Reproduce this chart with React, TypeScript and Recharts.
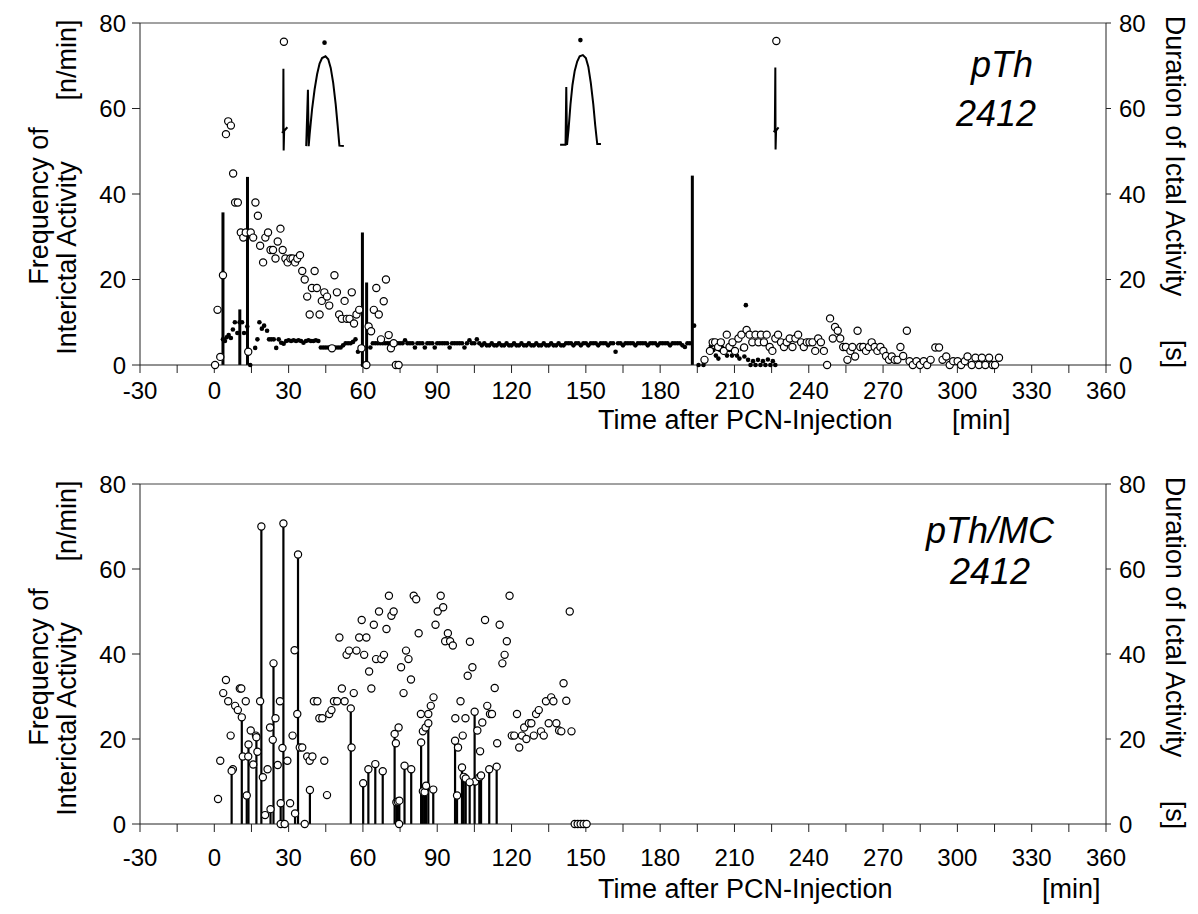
import React from "react";
import { ComposedChart, Bar, Scatter, XAxis, YAxis, ReferenceLine } from "recharts";

type Pt = [number, number];

const FONT = "'Liberation Sans', Arial, Helvetica, sans-serif";

// axis ticks (minutes / values)
const xTicks = [-30, -15, 0, 15, 30, 45, 60, 75, 90, 105, 120, 135, 150, 165, 180, 195, 210, 225, 240, 255, 270, 285, 300, 315, 330, 345, 360];
const yTicks = [0, 20, 40, 60, 80];

// ---- upper panel: pTh 2412 ----
// open circles: frequency of interictal activity [n/min]
const topFreq: Pt[] = [
  [0.3, 0], [1.3, 12.9], [2.4, 1.9], [3.5, 21], [4.7, 54], [5.6, 57], [6.7, 56], [7.6, 44.8], [8.4, 38], [9.5, 38],
  [10.7, 31], [11.7, 29.8], [12.7, 31], [13.7, 3.1], [14.7, 31], [15.7, 29.8], [16.6, 38], [17.6, 34.9], [18.5, 27.9], [19.7, 24],
  [20.6, 29.8], [21.7, 31], [22.7, 26.9], [23.7, 26.9], [24.7, 24.9], [25.6, 28.9], [26.7, 31.9], [27.6, 26.9], [28.7, 24.9], [29.6, 24],
  [30.7, 24.9], [31.6, 24.9], [32.6, 24], [33.5, 24.9], [34.6, 25.7], [35.5, 22], [36.5, 20], [37.5, 16], [38.5, 11.8], [39.4, 18],
  [40.5, 22], [41.4, 18], [42.5, 11.8], [43.4, 15], [44.4, 17], [45.5, 16], [46.4, 13.9], [47.5, 3.9], [48.5, 21], [49.5, 17],
  [50.4, 11.8], [51.5, 10.8], [52.6, 15], [53.5, 10.8], [54.6, 10.8], [55.5, 17], [56.4, 9.7], [57.4, 11.8], [58.5, 12.9], [59.4, 3.9],
  [61.4, 0], [62.3, 9], [63.3, 7.9], [64.4, 12.9], [65.4, 18], [66.4, 11.8], [67.3, 6], [68.4, 14.9], [69.3, 20], [70.4, 7],
  [71.3, 3.9], [72.4, 5.1], [73.3, 0], [74.4, 0],
  [197.9, 1.2], [200.1, 3.3], [201.2, 5.3], [202.2, 5.3], [203.4, 4.2], [204.5, 5.3], [205.7, 3.3], [206.9, 7.1], [208, 4.2], [209.2, 5.3],
  [210.2, 3.3], [211.6, 6.2], [212.8, 7.1], [213.9, 4.1], [214.9, 8.2], [216.1, 7.1], [217.2, 5.3], [218.5, 7.1], [219.7, 5.3], [220.7, 7.1],
  [221.9, 5.3], [223, 7.1], [224.2, 4.2], [225.3, 3.3], [226.5, 6.2], [227.6, 7.1], [228.8, 5.3], [230, 4.2], [231.1, 5.3], [232.3, 6.2],
  [233.4, 4.2], [234.6, 6.2], [235.7, 7.1], [236.9, 5.3], [238, 4.2], [239.2, 5.3], [240.3, 5.3], [241.5, 5.3], [242.6, 3.3], [243.8, 6.2],
  [244.9, 5.3], [246.1, 3.3], [247.4, 0], [248.6, 10.9], [249.7, 6.2], [250.6, 8.9], [251.7, 8], [252.7, 6.2], [253.9, 4.2], [255, 4.2],
  [255.6, 1.2], [256.8, 3.3], [257.6, 4.2], [258.7, 2], [259.7, 8], [260.8, 4.2], [262, 4.2], [263.1, 3.3], [264.3, 4.2], [265.4, 5.3],
  [266.6, 4.2], [267.7, 3.3], [268.9, 4.2], [270.1, 3.3], [271.2, 2.1], [272.4, 1.2], [273.5, 2], [274.7, 1.2], [275.8, 1.2], [277, 4.2],
  [278.1, 2.1], [279.6, 8], [280.7, 0.9], [282, 0], [283.5, 0.9], [284.9, 0], [286.4, 0.9], [287.8, 0], [289.2, 1.2], [291.1, 4.1],
  [292.6, 4.1], [294, 1.2], [295.5, 2], [296.9, 0], [298.3, 0.9], [300.1, 0.9], [301.5, 0], [303, 0.9], [304.1, 2], [305.8, 0],
  [307.3, 1.7], [308.7, 0], [309.9, 1.7], [311.3, 0], [312.8, 1.7], [314.2, 0], [315.2, 0], [316.8, 1.7],
];

// small filled dots
const topDots: Pt[] = [
  [3.5, 6], [4.3, 5.6], [5, 6.5], [5.8, 7], [6.7, 6.3], [7.5, 8.3], [8.3, 10], [9.3, 7.5], [10.2, 10], [11.2, 10],
  [12, 7.5], [13.3, 9], [14.5, 0], [16.5, 4], [17.4, 6], [18.2, 10], [19.2, 8.5], [20.1, 9.2], [21.3, 8], [22.1, 6],
  [23, 6], [24, 6], [25, 4], [26, 6], [27, 5.2], [28, 5], [29, 5.6], [30, 5.8], [31, 5.6], [32, 5.8],
  [33, 5.6], [34, 5.8], [35, 5.6], [36, 5.2], [37, 5.6], [38, 5.8], [39, 5.6], [40, 5.6], [41, 5.8], [42, 5.6],
  [43, 4.1], [44, 4.1], [45, 4.1], [46, 4.1], [47, 4.1], [48, 4.1], [49, 4.1], [50, 4.1], [51, 4.1], [52, 4.6],
  [53, 5.1], [54, 5.1], [55, 5.1], [56, 5.4], [57, 6], [58, 3.1], [60, 0], [61.8, 0],
  [63, 4.1], [64, 5.1], [65, 5.1], [66, 5.1], [67, 5.1], [68, 5.1], [69, 5.1], [70, 5.1], [71, 5.1], [72, 5.1],
  [73, 5.1], [74, 5.1], [75, 5.1], [76, 5.1], [77, 5.8], [78, 5.1], [79, 5.1], [80, 5.1], [81, 4.1], [82, 5.1],
  [83, 5.1], [84, 5.1], [85, 4.1], [86, 5.1], [87, 5.1], [88, 5.1], [89, 4.1], [90, 5.1], [91, 5.1], [92, 5.1],
  [93, 5.1], [94, 5.1], [95, 4.1], [96, 5.1], [97, 5.1], [98, 5.1], [99, 5.1], [100, 5.1], [101, 4.1], [102, 5.1],
  [103, 5.8], [104, 5.1], [105, 5.1], [106, 6], [107, 5.1], [108, 4.6], [109, 5.1], [110, 4.6], [111, 4.6], [112, 5.1],
  [113, 4.6], [114, 4.6], [115, 5.1], [116, 4.6], [117, 4.6], [118, 5.1], [119, 4.6], [120, 4.6], [121, 5.1], [122, 4.6],
  [123, 4.6], [124, 5.1], [125, 4.6], [126, 4.6], [127, 5.1], [128, 4.6], [129, 4.6], [130, 5.1], [131, 4.6], [132, 4.6],
  [133, 5.1], [134, 4.6], [135, 4.6], [136, 5.1], [137, 4.6], [138, 4.6], [139, 5.1], [140, 4.6], [141, 4.6], [142, 5.1],
  [143, 5.1], [144, 5.1], [145, 4.6], [146, 5.1], [147, 5.1], [148, 4.6], [149, 5.1], [150, 5.1], [151, 4.6], [152, 5.1],
  [153, 5.1], [154, 5.1], [155, 4.6], [156, 5.1], [157, 5.1], [158, 5.1], [159, 4.6], [160, 5.1], [161, 5.1], [162, 3.1],
  [163, 5.1], [164, 5.1], [165, 4.6], [166, 5.1], [167, 5.1], [168, 5.1], [169, 5.1], [170, 4.6], [171, 5.1], [172, 5.1],
  [173, 5.1], [174, 5.1], [175, 4.6], [176, 5.1], [177, 5.1], [178, 5.1], [179, 4.6], [180, 5.1], [181, 5.1], [182, 5.1],
  [183, 5.1], [184, 4.6], [185, 5.1], [186, 5.1], [187, 5.1], [188, 5.1], [189, 4.6], [190, 4.2], [191, 5.1], [192, 5.1],
  [193.7, 9.2], [195.5, 0], [197.5, 0], [199.7, 3.1], [200.5, 4.5], [201.5, 3.5], [202.5, 2.2], [203.5, 1.5], [204.2, 3.5], [205, 4.1],
  [206, 3], [207, 2.2], [208, 3.5], [209, 2.2], [210, 3], [211, 2.2], [212, 1.5], [213, 3.8], [214, 2], [214.6, 14],
  [215.5, 1.2], [216.5, 0], [217.5, 0.9], [218.5, 0], [219.5, 1.2], [220.5, 0], [221.5, 0.9], [222.5, 0], [223.5, 1.3], [224.5, 0],
  [225.5, 0.9], [226.5, 0],
];

// vertical lines: duration of ictal activity [s]
const topIctal: Pt[] = [[3.5, 35.7], [10.3, 13], [13.4, 44], [59.8, 31], [61.5, 19.3], [193, 44.3]];

// marks above the seizure traces
const topMarkOpen: Pt[] = [[28.1, 75.6], [226.9, 75.8]];
const topMarkFilled: Pt[] = [[44.5, 75.4], [147.8, 76]];

// seizure trace sketches
const traceA: Pt[] = [[27.3, 54.3], [27.8, 54.6], [27.9, 69.3], [28.0, 50.2], [28.2, 54.8], [29.5, 55.6]];
const traceB: Pt[] = [
  [37.1, 51.2], [37.8, 64.4], [38.1, 51.2], [38.5, 54], [39.5, 60], [40.5, 64.5], [41.5, 68], [42.5, 70.5], [43.5, 71.8], [44.9, 72.2],
  [46, 71.5], [47, 69.5], [48, 66], [49, 61], [49.8, 56], [50.5, 51.3], [52.3, 51.2],
];
const traceC: Pt[] = [
  [139.6, 51.5], [141.8, 51.5], [142.1, 65], [142.4, 51.5], [143, 55], [143.8, 61], [144.6, 65.5], [145.5, 68.8], [146.5, 71], [147.5, 72.2],
  [148.8, 72.5], [150, 71.8], [151, 69.8], [152, 66], [153, 61], [153.8, 56], [154.6, 51.7], [156.1, 51.7],
];
const traceD: Pt[] = [[225.8, 54.5], [226.3, 54.8], [226.5, 69.6], [226.6, 50.4], [226.8, 54.8], [227.8, 55.6]];

// ---- lower panel: pTh/MC 2412 ----
const botFreq: Pt[] = [
  [1.5, 5.9], [2.4, 14.9], [3.6, 30.8], [4.7, 33.9], [5.6, 28.9], [6.6, 20.8], [7.5, 12.9], [8.4, 27.8], [9.5, 26.8], [10.3, 31.9],
  [10.9, 31.9], [11.5, 15.9], [12.7, 28.9], [13.7, 15.9], [14.7, 22], [15.7, 14], [16.8, 20.8], [17.4, 17], [18.5, 28.9], [19.6, 11],
  [20.5, 2.1], [21.5, 12.9], [22.5, 22.7], [23.6, 19.8], [24.7, 24.9], [25.6, 13.9], [26.5, 28.9], [26.8, 0], [27.5, 17.9], [28.4, 0],
  [29.5, 14.9], [30.6, 4.9], [31.6, 20.8], [32.4, 40.9], [33.5, 25.9], [34.5, 18], [35.5, 18], [36.5, 0], [37.5, 15.9], [38.5, 14.9],
  [39.6, 15.9], [40.2, 28.9], [41.6, 28.9], [42.4, 24.9], [43.6, 24.9], [44.4, 14.9], [45.5, 6.8], [46.4, 25.9], [47.3, 26.8], [48.3, 28.9],
  [49.6, 28.9], [50.5, 43.9], [51.5, 31.9], [52.6, 28.9], [53.4, 39.8], [54.4, 40.8], [55.4, 18], [56.3, 30.8], [57.4, 40.8], [58.5, 43.9],
  [59.5, 48], [60.5, 39.8], [61.4, 43.9], [62.5, 35.9], [63.4, 31.9], [64.4, 46.9], [65.3, 38.8], [66.5, 50], [67.4, 38.8], [68.5, 39.8],
  [69.5, 45.9], [70.5, 53.7], [71.5, 49], [72.4, 50], [73.3, 19], [74.4, 22.7], [74.6, 0], [75.4, 36.9], [76.4, 30.8], [77.4, 40.8],
  [78.4, 38.8], [79.4, 34], [80.5, 53.7], [81.5, 52.9], [82.5, 44.9], [83.4, 25.9], [84.2, 21.8], [85.3, 22.7], [86.4, 25.9], [87.4, 27.8],
  [88.5, 29.8], [89.3, 46.9], [90.2, 50], [91.4, 53.7], [92.4, 51], [93.2, 43], [94.3, 44.9], [95.2, 43], [96.3, 42], [97.3, 24.9],
  [98.4, 18], [99.4, 28.9], [100.3, 20.8], [101.4, 24.9], [102.3, 34.9], [103.2, 42.9], [104.2, 36.9], [105.3, 10], [106.2, 22], [107.3, 17.1],
  [108.2, 23.9], [109.3, 48], [110.2, 27.8], [111.3, 25.9], [112.1, 25.9], [113.2, 32], [114.2, 19], [115.2, 46.9], [116.3, 37.8], [117.2, 39.8],
  [118.1, 43], [119.2, 53.7], [120.1, 20.8], [121.1, 20.8], [122.2, 25.9], [123.1, 18], [124.2, 20.8], [125.1, 22.7], [126, 20], [127, 23.7],
  [128, 23.7], [129, 20.8], [129.9, 25.9], [131, 26.8], [131.9, 21.8], [133, 20.8], [133.9, 28.9], [135, 23.7], [136, 29.8], [136.9, 28.9],
  [138.1, 23.7], [139.2, 22], [140.1, 21.8], [141, 33.1], [142.1, 29], [143.5, 50], [144.2, 21.8], [145.5, 0], [146.7, 0], [147.9, 0],
  [149.1, 0], [150.3, 0],
];

const botIctal: Pt[] = [
  [7, 12.5], [11.1, 25.1], [13.1, 6.7], [13.8, 18.7], [17, 20.4], [19, 70], [22.7, 3.5], [23.9, 37.8], [26.8, 4.9], [27.9, 70.7],
  [32.6, 2.5], [33.8, 63.4], [38.6, 8], [55.1, 27.2], [60.1, 9.6], [62.2, 12.9], [65, 14.1], [68, 12.4], [72.8, 21.2], [73.5, 5.1],
  [74.1, 5.3], [74.7, 5.5], [76.8, 13.7], [79.5, 12.9], [83.5, 19.2], [84.2, 7.7], [84.9, 7.5], [85.5, 9], [86.4, 23.7], [88.4, 8.1],
  [97.2, 19.6], [98, 6.7], [100, 13.3], [100.7, 11.1], [101.5, 10.7], [103.1, 9.8], [105.1, 26.4], [107, 11], [107.7, 11.4], [111, 12.9],
  [114, 13.5],
];

const toPts = (arr: Pt[]) => arr.map(([t, v]) => ({ t, v }));

const OpenDot = (p: any) => (
  <circle cx={p.cx} cy={p.cy} r={3.6} fill="#fff" stroke="#000" strokeWidth={1.2} />
);
const FilledDot = (p: any) => <circle cx={p.cx} cy={p.cy} r={2.3} fill="#000" />;
const NoDot = () => <g />;
// thin stick centred on the bar slot
const makeStick = (w: number) => (p: any) => {
  if (!p.height) return <g />;
  return <rect x={p.x + p.width / 2 - w / 2} y={p.y} width={w} height={p.height} fill="#000" />;
};

const tickStyle = { fill: "#000", fontSize: 24, fontFamily: FONT };

interface PanelProps {
  top: number;
  plotHeight: number;
  tickGap: number;
  stick: number;
  freq: Pt[];
  dots: Pt[];
  ictal: Pt[];
  markOpen: Pt[];
  markFilled: Pt[];
  traces: Pt[][];
}

function Panel({ top, plotHeight, tickGap, stick, freq, dots, ictal, markOpen, markFilled, traces }: PanelProps) {
  const H = 420;
  return (
    <div style={{ position: "absolute", left: 0, top, width: 1198, height: H }}>
      <ComposedChart
        width={1198}
        height={H}
        data={toPts(ictal)}
        margin={{ top: 23, right: 32, left: 80, bottom: H - 23 - plotHeight - 30 }}
      >
        <XAxis
          dataKey="t"
          type="number"
          domain={[-30, 360]}
          ticks={xTicks}
          interval={0}
          allowDataOverflow
          height={30}
          tickSize={8}
          tickMargin={tickGap}
          stroke="#222"
          tick={tickStyle}
          tickFormatter={(v: number) => (v % 30 === 0 ? String(v) : "")}
        />
        <YAxis yAxisId="f" orientation="left" domain={[0, 80]} ticks={yTicks} width={60} tickSize={8} tickMargin={6} stroke="#222" tick={tickStyle} />
        <YAxis yAxisId="d" orientation="right" domain={[0, 80]} ticks={yTicks} width={60} tickSize={5} tickMargin={8} stroke="#222" tick={tickStyle} />
        <ReferenceLine yAxisId="f" y={80} stroke="#444" strokeWidth={1} />
        <Bar yAxisId="d" dataKey="v" barSize={3} fill="#000" shape={makeStick(stick)} isAnimationActive={false} />
        {traces.map((tr, i) => (
          <Scatter key={i} yAxisId="f" data={toPts(tr)} dataKey="v" line={{ stroke: "#000", strokeWidth: 2 }} shape={NoDot} isAnimationActive={false} />
        ))}
        <Scatter yAxisId="f" data={toPts(dots)} dataKey="v" shape={FilledDot} isAnimationActive={false} />
        <Scatter yAxisId="f" data={toPts(markFilled)} dataKey="v" shape={FilledDot} isAnimationActive={false} />
        <Scatter yAxisId="f" data={toPts(freq)} dataKey="v" shape={OpenDot} isAnimationActive={false} />
        <Scatter yAxisId="f" data={toPts(markOpen)} dataKey="v" shape={OpenDot} isAnimationActive={false} />
      </ComposedChart>
    </div>
  );
}

function Titles({ dy, last }: { dy: number; last: boolean }) {
  const lab = { fontFamily: FONT, fontSize: 27, fill: "#000" };
  const tag = { fontFamily: FONT, fontSize: 36, fontStyle: "italic", fill: "#000" };
  const ty = last ? 437 : 429;
  return (
    <g transform={`translate(0, ${dy})`}>
      <text {...lab} textAnchor="middle" transform="translate(48, 206) rotate(-90)">Frequency of</text>
      <text {...lab} textAnchor="middle" transform="translate(76, 258) rotate(-90)">Interictal Activity</text>
      <text {...lab} textAnchor="middle" transform="translate(76, 60) rotate(-90)">[n/min]</text>
      <text {...lab} textAnchor="middle" transform="translate(1166, 156) rotate(90)">Duration of Ictal Activity</text>
      <text {...lab} textAnchor="middle" transform="translate(1166, 354) rotate(90)">[s]</text>
      <text {...lab} x={598} y={ty}>Time after PCN-Injection</text>
      <text {...lab} x={last ? 1042 : 952} y={ty}>[min]</text>
      {last ? (
        <>
          <text {...tag} textAnchor="middle" x={990} y={82}>pTh/MC</text>
          <text {...tag} textAnchor="middle" x={990} y={123}>2412</text>
        </>
      ) : (
        <>
          <text {...tag} textAnchor="middle" x={1002} y={77}>pTh</text>
          <text {...tag} textAnchor="middle" x={996} y={126}>2412</text>
        </>
      )}
    </g>
  );
}

export default function App() {
  return (
    <div style={{ position: "absolute", left: 0, top: 0, width: 1198, height: 914, background: "#fff" }}>
      <Panel
        top={0}
        plotHeight={342}
        tickGap={9}
        stick={3}
        freq={topFreq}
        dots={topDots}
        ictal={topIctal}
        markOpen={topMarkOpen}
        markFilled={topMarkFilled}
        traces={[traceA, traceB, traceC, traceD]}
      />
      <Panel
        top={461}
        plotHeight={340}
        tickGap={17}
        stick={2.2}
        freq={botFreq}
        dots={[]}
        ictal={botIctal}
        markOpen={[]}
        markFilled={[]}
        traces={[]}
      />
      <svg width={1198} height={914} style={{ position: "absolute", left: 0, top: 0, pointerEvents: "none" }}>
        <Titles dy={0} last={false} />
        <Titles dy={461} last={true} />
      </svg>
    </div>
  );
}
